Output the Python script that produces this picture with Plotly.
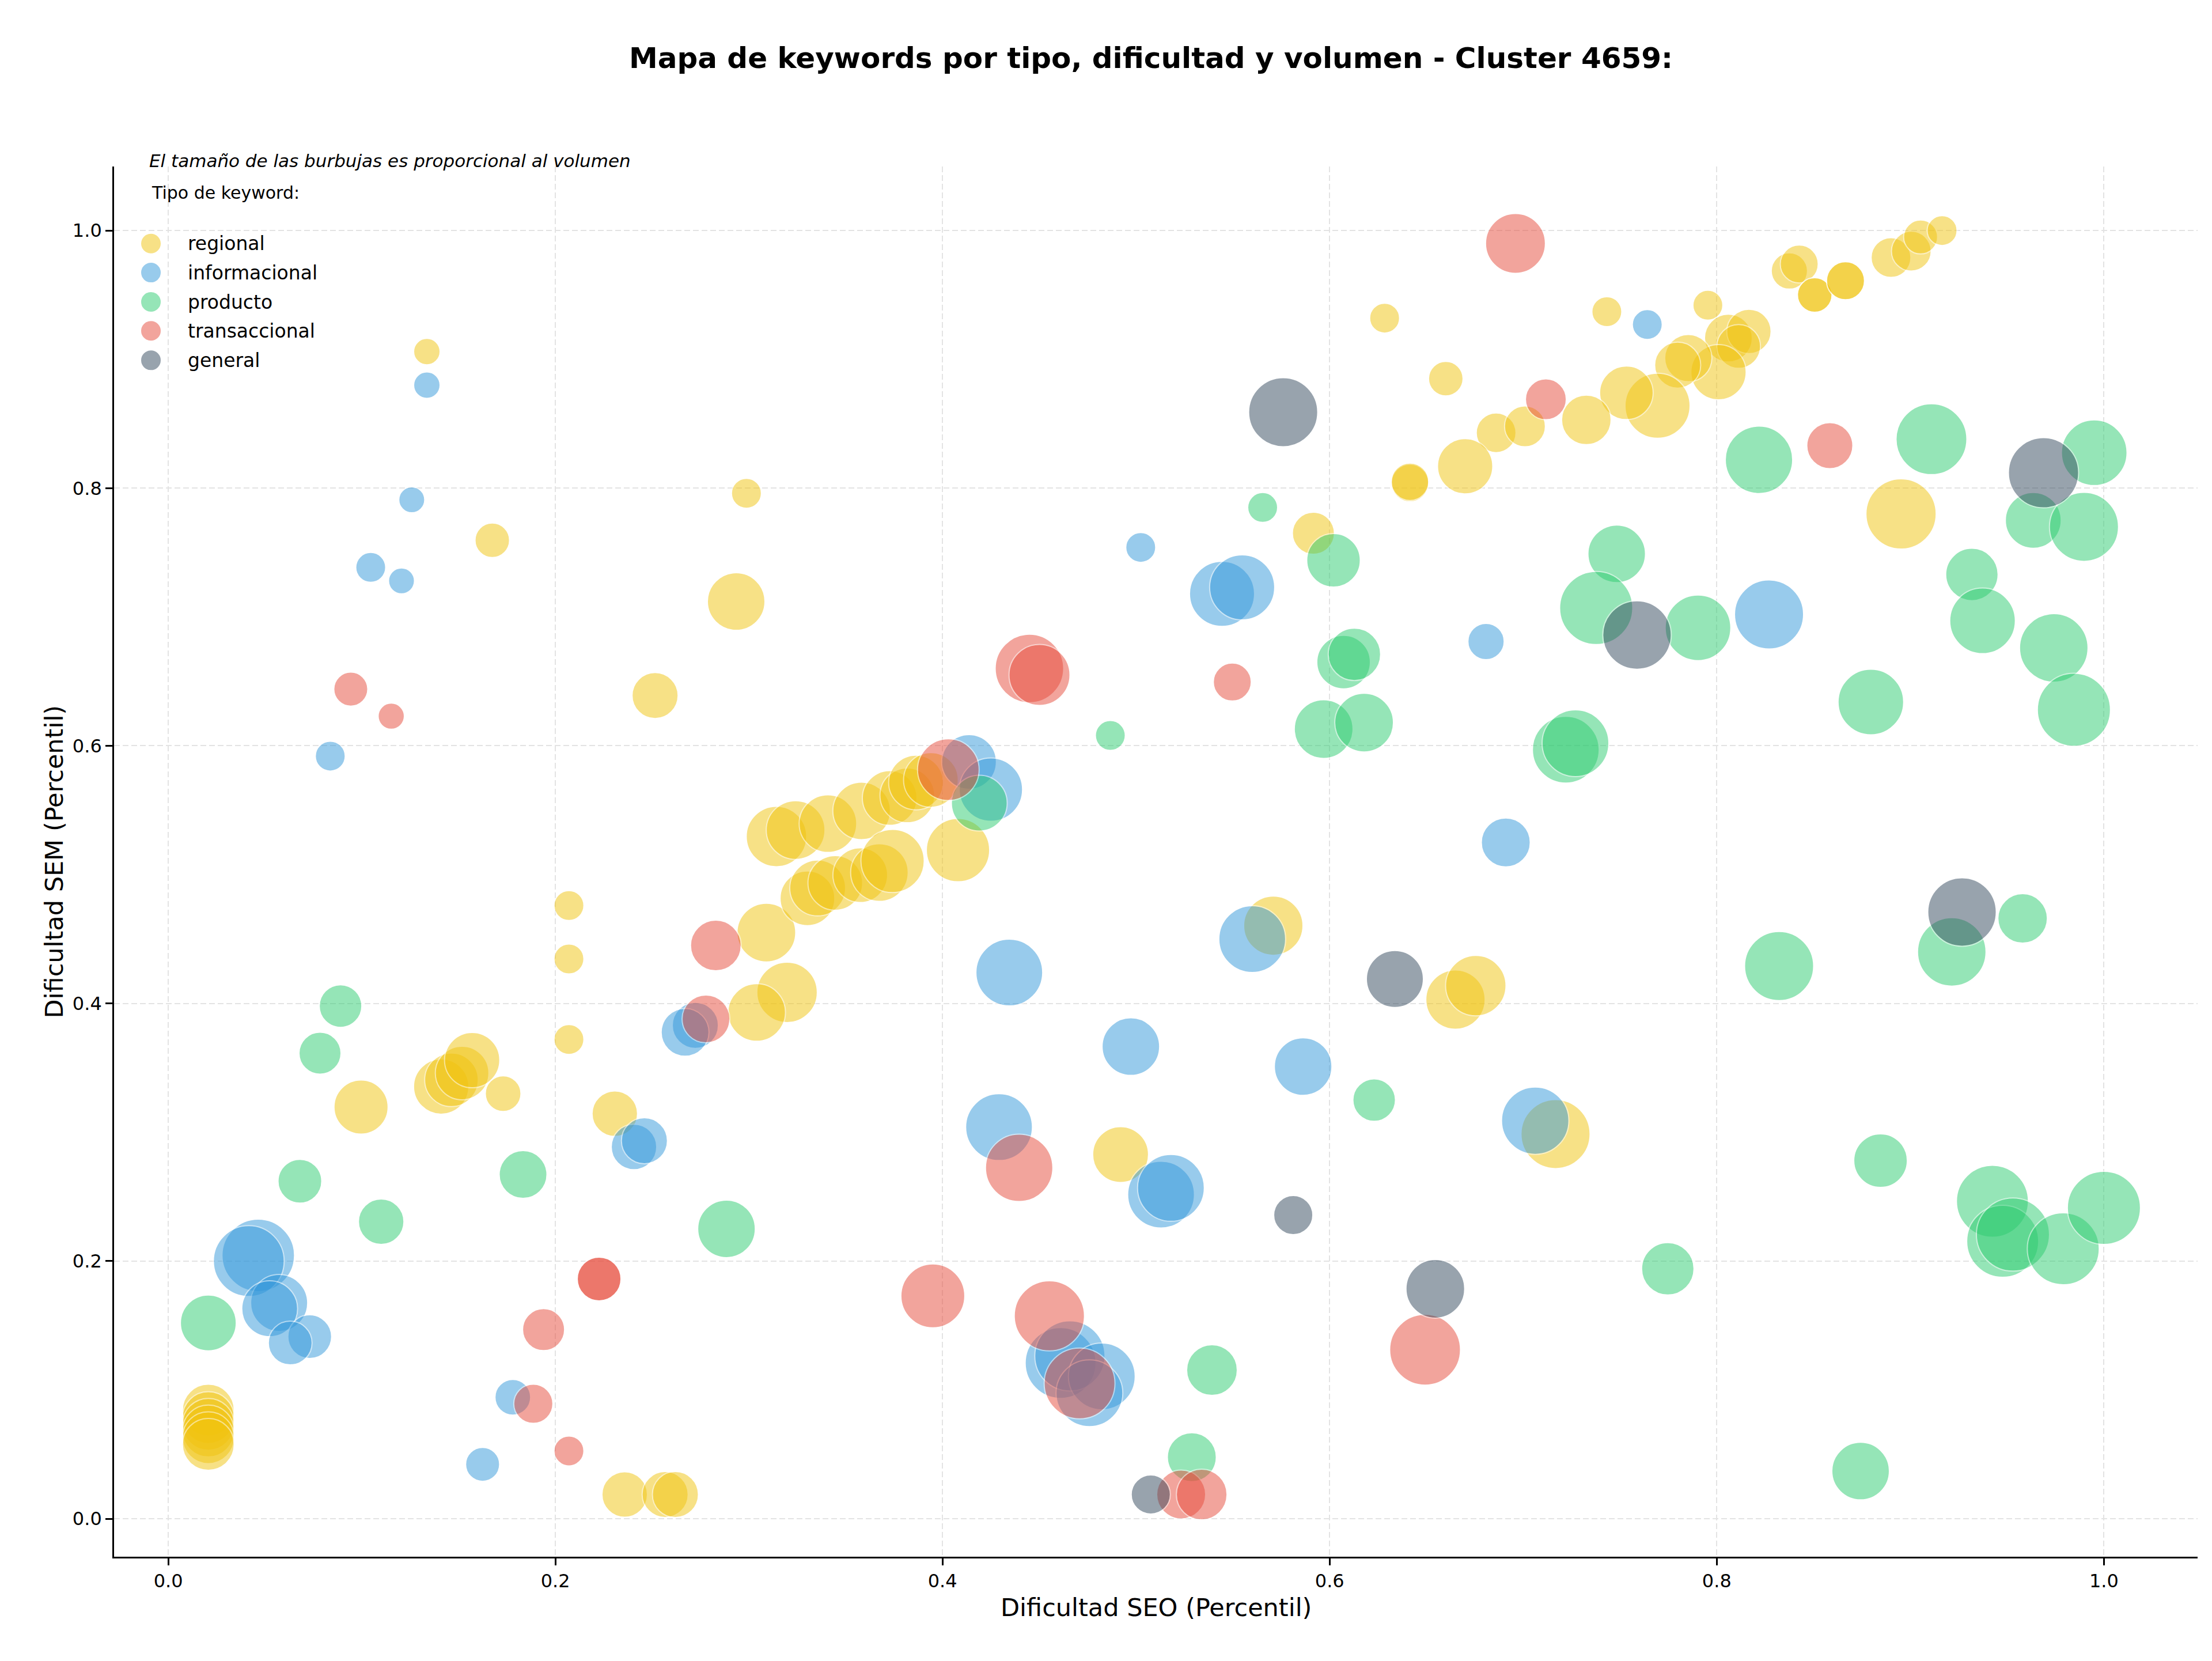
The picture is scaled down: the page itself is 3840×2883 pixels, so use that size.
import plotly.graph_objects as go

# ---------------- data ----------------
categories = ["regional", "informacional", "producto", "transaccional", "general"]
colors = {"regional": "#F1C40F", "informacional": "#3498DB", "producto": "#2ECC71",
          "transaccional": "#E74C3C", "general": "#34495E"}

reg_x = [0.1336, 0.1674, 0.2987, 0.2934, 0.2515, 0.207, 0.207, 0.207, 0.309, 0.3197, 0.304,
         0.0996, 0.141, 0.1463, 0.1518, 0.157, 0.173, 0.2307, 0.2358, 0.2567, 0.262,
         0.0207, 0.0207, 0.0207, 0.0207, 0.0207, 0.0207,
         0.6284, 0.66, 0.686, 0.670, 0.6415, 0.6415, 0.5916, 0.408,
         0.7432, 0.7954, 0.806, 0.8166, 0.8113, 0.8009, 0.7853, 0.7798, 0.7694, 0.7533, 0.7326, 0.7009,
         0.8375, 0.8426, 0.8506, 0.8506, 0.8665, 0.8665, 0.890, 0.9005, 0.9053, 0.9164, 0.8952,
         0.5709, 0.665, 0.6755, 0.492, 0.7167,
         0.3142, 0.3241, 0.3408, 0.3582, 0.3727, 0.3818, 0.3863, 0.394,
         0.3302, 0.3355, 0.3446, 0.3575, 0.3674, 0.3742]
reg_y = [0.906, 0.7595, 0.796, 0.712, 0.639, 0.476, 0.4345, 0.372, 0.455, 0.4086, 0.393,
         0.3196, 0.3355, 0.3407, 0.346, 0.356, 0.330, 0.3144, 0.0188, 0.0188, 0.0188,
         0.0843, 0.0785, 0.0733, 0.0681, 0.0629, 0.0577,
         0.932, 0.885, 0.843, 0.817, 0.804, 0.805, 0.765, 0.519,
         0.937, 0.942, 0.9165, 0.9217, 0.910, 0.890, 0.901, 0.8955, 0.864, 0.874, 0.853, 0.848,
         0.9686, 0.974, 0.950, 0.950, 0.961, 0.961, 0.979, 0.984, 0.995, 1.0, 0.780,
         0.4604, 0.403, 0.4138, 0.2827, 0.2986,
         0.5296, 0.5346, 0.5396, 0.5495, 0.5595, 0.5615, 0.5715, 0.5735,
         0.4816, 0.4896, 0.4936, 0.4996, 0.5016, 0.5106]
reg_vol = [132, 225, 169, 625, 400, 169, 169, 169, 650, 689, 625,
           552, 576, 541, 541, 576, 240, 390, 390, 400, 400,
           506, 506, 506, 506, 506, 506,
           169, 225, 298, 576, 264, 264, 333, 756,
           169, 169, 431, 371, 361, 576, 420, 400, 798, 541, 462, 315,
           248, 272, 225, 225, 272, 272, 298, 298, 218, 169, 930,
           663, 663, 689, 588, 900,
           689, 650, 625, 625, 564, 564, 564, 564,
           564, 588, 564, 564, 625, 756]

inf_x = [0.1336, 0.1258, 0.1046, 0.1205, 0.0837, 0.2723, 0.267, 0.2406, 0.246, 0.0465, 0.0416,
         0.0573, 0.0524, 0.0731, 0.063, 0.178, 0.1624, 0.5024, 0.5444, 0.5548, 0.6808, 0.4137,
         0.425, 0.7641, 0.827, 0.691, 0.4345, 0.560, 0.4973, 0.5863, 0.4292, 0.5129, 0.518,
         0.461, 0.4658, 0.4823, 0.4759, 0.7062]
inf_y = [0.880, 0.791, 0.7385, 0.728, 0.592, 0.383, 0.3776, 0.2886, 0.2934, 0.2044, 0.200,
         0.1675, 0.163, 0.1413, 0.1364, 0.0943, 0.0422, 0.754, 0.718, 0.723, 0.681, 0.5875,
         0.566, 0.927, 0.702, 0.525, 0.424, 0.450, 0.3665, 0.351, 0.304, 0.2516, 0.2568,
         0.1209, 0.1264, 0.1105, 0.0974, 0.309]
inf_vol = [132, 127, 169, 127, 169, 400, 431, 390, 400, 992, 946,
           613, 588, 361, 361, 240, 218, 169, 798, 798, 248, 564,
           756, 169, 900, 452, 841, 841, 625, 625, 841, 841, 841,
           946, 930, 841, 841, 856]

pro_x = [0.089, 0.0784, 0.068, 0.110, 0.1833, 0.2884, 0.0207, 0.5654, 0.602, 0.6072, 0.6128,
         0.4867, 0.5969, 0.6178, 0.419, 0.8218, 0.9109, 0.995, 0.9635, 0.9897, 0.7483, 0.7377,
         0.7903, 0.9318, 0.9373, 0.9741, 0.9845, 0.8796, 0.722, 0.727, 0.623, 0.5392, 0.5288,
         0.9214, 0.958, 0.8322, 0.8846, 0.7747, 0.9424, 0.9477, 0.953, 0.979, 1.0, 0.8743]
pro_y = [0.398, 0.3614, 0.262, 0.2306, 0.2672, 0.225, 0.152, 0.785, 0.744, 0.665, 0.671,
         0.608, 0.613, 0.618, 0.5555, 0.822, 0.838, 0.8275, 0.775, 0.770, 0.749, 0.707,
         0.6916, 0.733, 0.697, 0.676, 0.628, 0.634, 0.597, 0.602, 0.325, 0.1154, 0.0478,
         0.440, 0.466, 0.429, 0.278, 0.194, 0.2465, 0.2154, 0.2206, 0.2096, 0.2413, 0.037]
pro_vol = [342, 333, 361, 390, 431, 625, 588, 169, 541, 541, 518,
           169, 650, 650, 588, 856, 946, 812, 588, 900, 625, 1008,
           812, 518, 812, 885, 1008, 812, 841, 841, 342, 484, 452,
           885, 462, 900, 541, 518, 977, 977, 1008, 977, 1008, 625]

tra_x = [0.0943, 0.1152, 0.2829, 0.2778, 0.2226, 0.2226, 0.1939, 0.1886, 0.207, 0.696, 0.7117,
         0.8584, 0.5497, 0.4449, 0.4501, 0.403, 0.4396, 0.395, 0.4552, 0.4708, 0.5233, 0.5339, 0.6493]
tra_y = [0.644, 0.623, 0.445, 0.388, 0.1861, 0.1861, 0.1468, 0.0892, 0.0526, 0.990, 0.869,
         0.833, 0.6495, 0.660, 0.655, 0.5815, 0.2724, 0.173, 0.1575, 0.105, 0.0188, 0.0188, 0.1312]
tra_vol = [218, 130, 484, 431, 361, 361, 333, 289, 169, 676, 315,
           400, 272, 885, 702, 716, 856, 770, 930, 946, 452, 484, 946]

gen_x = [0.576, 0.9688, 0.7588, 0.6337, 0.5812, 0.5076, 0.6546, 0.9267]
gen_y = [0.859, 0.812, 0.686, 0.419, 0.2357, 0.0188, 0.1785, 0.471]
gen_vol = [900, 930, 885, 613, 289, 289, 650, 885]

series = {
    "regional": (reg_x, reg_y, reg_vol),
    "informacional": (inf_x, inf_y, inf_vol),
    "producto": (pro_x, pro_y, pro_vol),
    "transaccional": (tra_x, tra_y, tra_vol),
    "general": (gen_x, gen_y, gen_vol),
}

tick_vals = [0.0, 0.2, 0.4, 0.6, 0.8, 1.0]
tick_text = ["0.0", "0.2", "0.4", "0.6", "0.8", "1.0"]

# ---------------- figure ----------------
W, H = 3840, 2883
L, R, T, B = 198, 25, 289, 181
FONT = "DejaVu Sans"
ALPHA = 0.5

fig = go.Figure()
for cat in categories:
    xs, ys, vs = series[cat]
    fig.add_trace(go.Scatter(
        x=xs, y=ys, mode="markers", name=cat, showlegend=False,
        marker=dict(size=vs, sizemode="area", sizeref=0.125, color=colors[cat],
                    opacity=ALPHA, line=dict(color="white", width=2)),
        hoverinfo="skip"))

# custom legend drawn on an overlay axis spanning the plot area (0..1)
leg_rows = [0.9446, 0.9237, 0.9026, 0.8818, 0.8606]
fig.add_trace(go.Scatter(
    x=[0.0177] * len(categories), y=leg_rows, xaxis="x2", yaxis="y2", mode="markers",
    showlegend=False, hoverinfo="skip",
    marker=dict(size=36, color=[colors[c] for c in categories], opacity=ALPHA,
                line=dict(color="white", width=2))))

annotations = []
for cat, yy in zip(categories, leg_rows):
    annotations.append(dict(text=cat, x=0.0348, y=yy, xref="paper", yref="paper",
                            xanchor="left", yanchor="middle", showarrow=False,
                            font=dict(family=FONT, size=33, color="black")))
annotations.append(dict(text="Tipo de keyword:", x=0.0173, y=0.981, xref="paper", yref="paper",
                        xanchor="left", yanchor="middle", showarrow=False,
                        font=dict(family=FONT, size=30, color="black")))
annotations.append(dict(text="<i>El tamaño de las burbujas es proporcional al volumen</i>",
                        x=0.0164, y=1.0041, xref="paper", yref="paper",
                        xanchor="left", yanchor="middle", showarrow=False,
                        font=dict(family=FONT, size=31, color="black")))
annotations.append(dict(text="Dificultad SEO (Percentil)", x=0.5, y=0, xref="paper", yref="paper",
                        xanchor="center", yanchor="middle", yshift=-88, showarrow=False,
                        font=dict(family=FONT, size=43, color="black")))
annotations.append(dict(text="Dificultad SEM (Percentil)", x=0, y=0.5, xref="paper", yref="paper",
                        xanchor="center", yanchor="middle", xshift=-105, textangle=-90,
                        showarrow=False, font=dict(family=FONT, size=43, color="black")))

axis_common = dict(
    showline=True, linecolor="black", linewidth=2.7, mirror=False,
    ticks="outside", ticklen=12, tickwidth=2.7, tickcolor="black",
    tickvals=tick_vals, ticktext=tick_text,
    tickfont=dict(family=FONT, size=32, color="black"),
    showgrid=True, gridcolor="#e3e3e3", gridwidth=2, griddash="10px,5px",
    zeroline=False,
)

fig.update_layout(
    width=W, height=H, autosize=False,
    margin=dict(l=L, r=R, t=T, b=B, pad=0),
    paper_bgcolor="white", plot_bgcolor="white",
    font=dict(family=FONT, color="black"),
    title=dict(text="<b>Mapa de keywords por tipo, dificultad y volumen - Cluster 4659:</b>",
               x=1998 / W, xref="container", xanchor="center",
               y=1 - 100 / H, yref="container", yanchor="middle",
               font=dict(family=FONT, size=50, color="black")),
    xaxis=dict(range=[-0.028, 1.0484], **axis_common),
    yaxis=dict(range=[-0.0295, 1.0497], **axis_common),
    xaxis2=dict(overlaying="x", range=[0, 1], visible=False, fixedrange=True),
    yaxis2=dict(overlaying="y", range=[0, 1], visible=False, fixedrange=True),
    annotations=annotations,
    showlegend=False,
)

fig.write_html("out.html")
